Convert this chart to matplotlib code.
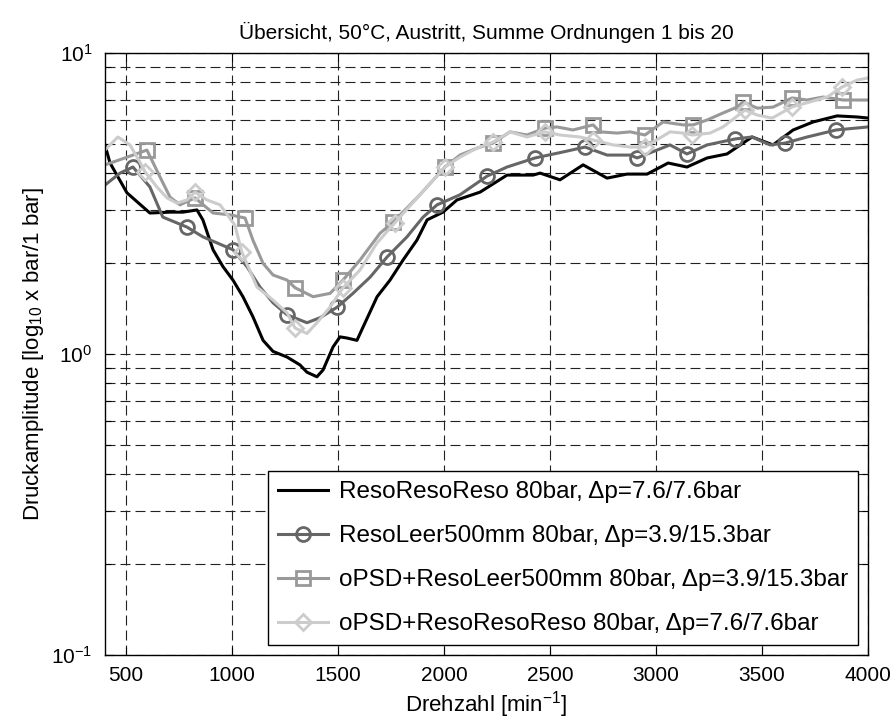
import matplotlib
matplotlib.use("Agg")
import matplotlib.pyplot as plt
import numpy as np

plt.rcParams['font.family'] = ['Liberation Sans', 'DejaVu Sans']
plt.rcParams['mathtext.default'] = 'regular'

# Drehzahl [1/min] und Amplituden je Messreihe
rpm_black = [400, 424, 504, 612, 707, 768, 834, 862, 910, 957, 1004, 1051, 1098, 1146, 1193,
             1259, 1320, 1353, 1400, 1429, 1476, 1509, 1542, 1589, 1618, 1684, 1745, 1806,
             1872, 1920, 1995, 2061, 2170, 2297, 2420, 2453, 2547, 2656, 2769, 2863, 2958,
             3057, 3146, 3241, 3335, 3453, 3552, 3647, 3741, 3854, 3949, 4000]
amp_black = [4.95, 4.31, 3.43, 2.94, 2.96, 2.96, 3.01, 2.79, 2.22, 1.95, 1.76, 1.55, 1.33, 1.11, 1.02,
             0.977, 0.92, 0.87, 0.84, 0.885, 1.055, 1.14, 1.13, 1.11, 1.23, 1.55, 1.76, 2.05,
             2.39, 2.79, 2.96, 3.25, 3.45, 3.93, 3.93, 3.99, 3.79, 4.25, 3.84, 3.96, 3.96,
             4.31, 4.18, 4.48, 4.62, 5.26, 4.95, 5.55, 5.90, 6.18, 6.13, 6.08]

rpm_circ = [400, 471, 532, 612, 673, 787, 862, 1004, 1070, 1131, 1193, 1259, 1353, 1415, 1495,
            1570, 1651, 1731, 1825, 1901, 1967, 2075, 2203, 2297, 2429, 2561, 2665, 2769, 2878,
            2911, 3005, 3066, 3146, 3241, 3373, 3453, 3538, 3609, 3713, 3850, 4000]
amp_circ = [3.64, 3.99, 4.18, 3.59, 2.85, 2.64, 2.45, 2.22, 1.95, 1.67, 1.48, 1.35, 1.27, 1.32, 1.43,
            1.59, 1.80, 2.10, 2.45, 2.85, 3.13, 3.38, 3.90, 4.18, 4.48, 4.69, 4.87, 4.58, 4.58,
            4.48, 4.76, 4.95, 4.62, 4.95, 5.18, 5.26, 4.95, 5.02, 5.26, 5.55, 5.68]
mk_circ = [532, 787, 1004, 1259, 1495, 1731, 1967, 2203, 2429, 2665, 2911, 3146, 3373, 3609, 3850]

rpm_sq = [400, 494, 598, 660, 707, 754, 825, 910, 990, 1061, 1098, 1146, 1193, 1259, 1297, 1382,
          1462, 1523, 1603, 1698, 1759, 1886, 2004, 2075, 2155, 2231, 2311, 2391, 2476, 2533,
          2608, 2703, 2736, 2816, 2878, 2948, 3033, 3128, 3175, 3241, 3316, 3382, 3411, 3477,
          3552, 3642, 3713, 3788, 3883, 4000]
amp_sq = [4.25, 4.48, 4.76, 3.87, 3.32, 3.13, 3.30, 2.94, 2.90, 2.83, 2.39, 2.00, 1.83, 1.76, 1.66, 1.55,
          1.59, 1.76, 2.05, 2.52, 2.74, 3.38, 4.18, 4.58, 4.83, 5.02, 5.47, 5.34, 5.63, 5.68,
          5.55, 5.77, 5.47, 5.42, 5.47, 5.34, 5.90, 5.77, 5.77, 5.99, 6.32, 6.61, 6.88, 6.56,
          6.61, 7.09, 6.98, 7.14, 6.98, 6.98]
mk_sq = [598, 825, 1061, 1297, 1523, 1759, 2004, 2231, 2476, 2703, 2948, 3175, 3411, 3642, 3883]

rpm_dia = [400, 461, 518, 565, 589, 645, 693, 740, 787, 825, 881, 943, 1013, 1046, 1117, 1193,
           1259, 1297, 1353, 1400, 1462, 1523, 1603, 1684, 1768, 1886, 2004, 2075, 2155, 2231,
           2311, 2391, 2476, 2547, 2641, 2703, 2797, 2878, 2948, 3066, 3128, 3170, 3255, 3316,
           3420, 3477, 3548, 3642, 3727, 3807, 3878, 3949, 4000]
amp_dia = [4.76, 5.26, 4.95, 4.34, 4.03, 3.59, 3.30, 3.17, 3.25, 3.45, 3.25, 3.13, 2.68, 2.18, 1.67, 1.51,
           1.37, 1.22, 1.17, 1.27, 1.43, 1.66, 1.90, 2.34, 2.73, 3.38, 4.18, 4.51, 4.83, 5.06,
           5.47, 5.26, 5.47, 5.34, 5.26, 5.14, 4.95, 4.87, 4.87, 5.47, 5.42, 5.34, 5.42, 5.68,
           6.46, 6.22, 6.08, 6.62, 6.88, 7.14, 7.71, 8.13, 8.26]
mk_dia = [589, 825, 1046, 1297, 1523, 1768, 2004, 2231, 2476, 2703, 2948, 3170, 3420, 3642, 3878]

labels = ["ResoResoReso 80bar, Δp=7.6/7.6bar",
          "ResoLeer500mm 80bar, Δp=3.9/15.3bar",
          "oPSD+ResoLeer500mm 80bar, Δp=3.9/15.3bar",
          "oPSD+ResoResoReso 80bar, Δp=7.6/7.6bar"]


def idx(xs, marks):
    return [i for i, x in enumerate(xs) if x in marks]


fig = plt.figure(figsize=(8.94, 7.22), dpi=100)
ax = fig.add_axes([0.1174, 0.0928, 0.8535, 0.8338])

ax.plot(rpm_black, amp_black, color="black", lw=2.2, label=labels[0])
ax.plot(rpm_circ, amp_circ, color="#666666", lw=2.2, marker="o", ms=10, mfc="none", mew=2,
        markevery=idx(rpm_circ, mk_circ), label=labels[1])
ax.plot(rpm_sq, amp_sq, color="#999999", lw=2.2, marker="s", ms=10, mfc="none", mew=2,
        markevery=idx(rpm_sq, mk_sq), label=labels[2])
ax.plot(rpm_dia, amp_dia, color="#cccccc", lw=2.2, marker="D", ms=8, mfc="none", mew=2,
        markevery=idx(rpm_dia, mk_dia), label=labels[3])

ax.set_yscale("log")
ax.set_xlim(400, 4000)
ax.set_ylim(0.1, 10)
ax.set_xticks([500, 1000, 1500, 2000, 2500, 3000, 3500, 4000])

ax.grid(True, which="major", color="#222222", linestyle=(0, (9, 4.5)), lw=0.8)
ax.grid(True, which="minor", axis="y", color="#222222", linestyle=(0, (9, 4.5)), lw=0.8)
ax.tick_params(which="both", direction="in", top=True, right=True, labelsize=15, width=0.8)
ax.tick_params(which="major", length=6)
ax.tick_params(which="minor", length=4)
ax.tick_params(axis="x", pad=8)
ax.tick_params(axis="y", pad=9)
for s in ax.spines.values():
    s.set_linewidth(1.0)

ax.set_title("Übersicht, 50°C, Austritt, Summe Ordnungen 1 bis 20", fontsize=15, pad=10)
ax.set_xlabel("Drehzahl [min$^{-1}$]", fontsize=16, labelpad=3)
ax.set_ylabel("Druckamplitude [log$_{10}$ x bar/1 bar]", fontsize=16, labelpad=4)

leg = ax.legend(loc="lower right", fontsize=17.5, frameon=True, fancybox=False, framealpha=1,
                edgecolor="black", handlelength=2.05, labelspacing=0.9, borderpad=0.42,
                borderaxespad=0.4, handletextpad=0.45)
leg.get_frame().set_linewidth(1.0)

fig.savefig("out.png", dpi=100)
